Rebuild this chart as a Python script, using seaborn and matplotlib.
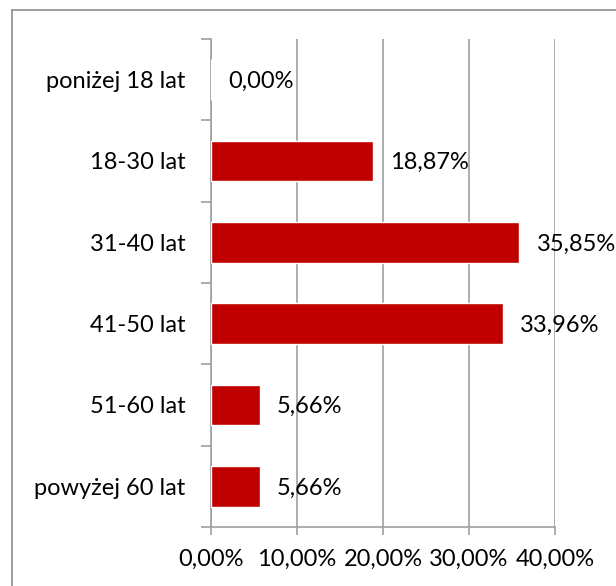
import matplotlib
matplotlib.use("Agg")
import matplotlib.pyplot as plt
import seaborn as sns
import pandas as pd
from matplotlib.lines import Line2D

categories = ["poniżej 18 lat", "18-30 lat", "31-40 lat", "41-50 lat", "51-60 lat", "powyżej 60 lat"]
values = [0.00, 18.87, 35.85, 33.96, 5.66, 5.66]
xticks = [0, 10, 20, 30, 40]

sns.set_theme(style="white")
plt.rcParams['font.family'] = ['Lato', 'DejaVu Sans']

df = pd.DataFrame({"cat": categories, "val": values})

W, H = 616, 586
fig = plt.figure(figsize=(W / 100, H / 100), dpi=100)
ax = fig.add_axes([211 / W, 1 - 527 / H, (555 - 211) / W, (527 - 39) / H])

sns.barplot(data=df, x="val", y="cat", orient="h", color="#C00000", width=0.5,
            saturation=1, ax=ax, zorder=3)

fs = 17
grey = "#A0A0A0"
ax.set_xlim(0, 40)
ax.set_ylim(5.5, -0.5)
ax.set_xticks(xticks)
ax.set_xticklabels([f"{t:.2f}%".replace(".", ",") for t in xticks])
ax.set_xlabel("")
ax.set_ylabel("")
ax.grid(axis="x", color=grey, linewidth=1.2, zorder=0)
ax.set_axisbelow(True)
for s in ["top", "right"]:
    ax.spines[s].set_visible(False)
for s in ["left", "bottom"]:
    ax.spines[s].set_color(grey)
    ax.spines[s].set_linewidth(1.2)

ax.tick_params(axis="x", direction="out", length=6, width=1.2, color=grey,
               labelsize=fs, labelcolor="black", pad=10, bottom=True)
ax.tick_params(axis="y", which="major", length=0, labelsize=fs, labelcolor="black", pad=18.5)
ax.set_yticks([i - 0.5 for i in range(len(categories) + 1)], minor=True)
ax.tick_params(axis="y", which="minor", direction="out", length=7, width=1.2, color=grey, left=True)

for i, v in enumerate(values):
    ax.text(v + 2.0, i + 0.02, f"{v:.2f}%".replace(".", ","), va="center", ha="left",
            fontsize=fs, color="black", zorder=4)

border = "#8C8C8C"
fig.add_artist(Line2D([12 / W, 12 / W], [0, 1 - 10 / H], transform=fig.transFigure,
                      color=border, linewidth=1.2))
fig.add_artist(Line2D([12 / W, 1], [1 - 10 / H, 1 - 10 / H], transform=fig.transFigure,
                      color=border, linewidth=1.2))

fig.savefig("out.png", dpi=100)
